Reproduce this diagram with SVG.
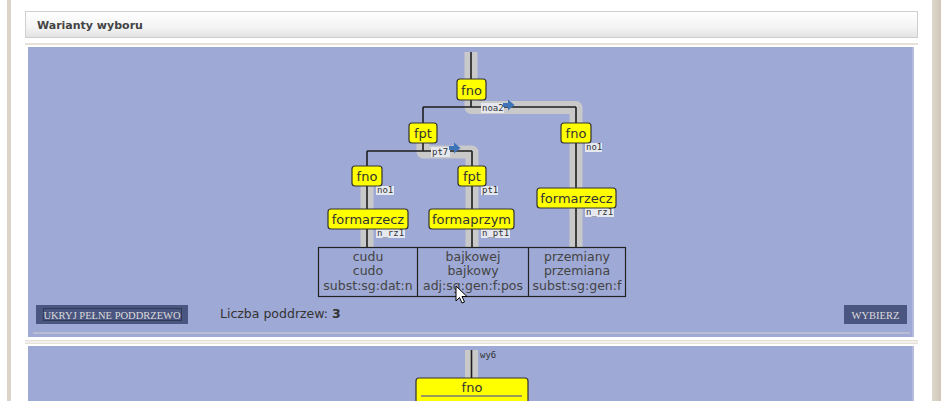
<svg xmlns="http://www.w3.org/2000/svg" width="941" height="401" viewBox="0 0 941 401">
<defs>
<linearGradient id="hdr" x1="0" y1="0" x2="0" y2="1">
<stop offset="0" stop-color="#ffffff"/><stop offset="0.6" stop-color="#f4f4f4"/><stop offset="1" stop-color="#e2e2e2"/>
</linearGradient>
<linearGradient id="side" x1="0" y1="0" x2="1" y2="0">
<stop offset="0" stop-color="#e0d8cc"/><stop offset="1" stop-color="#cfc6b8"/>
</linearGradient>
</defs>
<style>
.band{fill:none;stroke:#c9c9c9;stroke-width:13;stroke-linejoin:round;stroke-linecap:butt}
.edge{fill:none;stroke:#1e1e1e;stroke-width:1.6}
.node rect{fill:#ffff00;stroke:#333;stroke-width:1.2}
.node text{font-family:"DejaVu Sans",sans-serif;font-size:13px;fill:#333;text-anchor:middle}
.lbl{font-family:"DejaVu Sans Mono",monospace;font-size:9px;fill:#333}
.lblbg{fill:#e6e8f0}
.tok{font-family:"DejaVu Sans",sans-serif;font-size:12.5px;fill:#444;text-anchor:middle}
.btn{fill:#4b5680}
.btntext{font-family:"Liberation Serif",serif;font-size:10.5px;fill:#dcdcdc}
.panel{fill:#9ea9d5}
.arrow{fill:#3d74b8}
</style>
<rect width="941" height="401" fill="#ffffff"/>
<rect x="7" y="0" width="4" height="401" fill="#dcd4c8"/>
<rect x="932" y="0" width="9" height="401" fill="url(#side)"/>

<!-- header -->
<g id="header">
<rect x="25.5" y="11.5" width="892" height="26" fill="url(#hdr)" stroke="#cfcfcf"/>
<text x="37" y="29" font-family="DejaVu Sans, sans-serif" font-size="11px" font-weight="bold" fill="#444">Warianty wyboru</text>
</g>
<rect x="25" y="43" width="893" height="2" fill="#e6e2da"/>

<!-- panel 1 -->
<rect class="panel" x="28" y="47" width="886" height="290"/>
<rect x="912" y="47" width="2" height="290" fill="#b4bbdc"/>
<rect x="33" y="332" width="877" height="2" fill="#b9bdd3"/>

<g id="connectors">
<path class="band" d="M471,52 V107.5 H576 V247"/>
<path class="band" d="M423,140 V152 H472 V247"/>
<path class="band" d="M367,180 V247"/>
<path class="edge" d="M471,52 V79"/>
<path class="edge" d="M471,100 V107 M423,107 H576 M423,107 V123 M576,107 V123"/>
<path class="edge" d="M423,143 V151 M367,151 H472 M367,151 V166 M472,151 V166"/>
<path class="edge" d="M367,186 V209 M367,229 V247"/>
<path class="edge" d="M472,186 V209 M472,229 V247"/>
<path class="edge" d="M576,143 V188 M576,208 V247"/>
<g id="label-noa2"><rect class="lblbg" x="481" y="103" width="23" height="10"/><text class="lbl" x="482" y="111">noa2</text><path class="arrow" d="M503,103 h5 v-3.5 l6.5,5.5 l-6.5,5.5 v-3.5 h-5 z"/></g>
<g id="label-pt7"><rect class="lblbg" x="431" y="147" width="19" height="10"/><text class="lbl" x="432" y="155">pt7</text><path class="arrow" d="M449,146 h5 v-3.5 l6.5,5.5 l-6.5,5.5 v-3.5 h-5 z"/></g>
<g id="label-no1a"><rect class="lblbg" x="585" y="143" width="17" height="9"/><text class="lbl" x="586" y="150">no1</text></g>
<g id="label-no1b"><rect class="lblbg" x="376" y="186" width="18" height="9"/><text class="lbl" x="377" y="193">no1</text></g>
<g id="label-pt1"><rect class="lblbg" x="481" y="186" width="17" height="9"/><text class="lbl" x="482" y="193">pt1</text></g>
<g id="label-nrz1a"><rect class="lblbg" x="376" y="229" width="29" height="9"/><text class="lbl" x="377" y="236">n_rz1</text></g>
<g id="label-npt1"><rect class="lblbg" x="481" y="229" width="29" height="9"/><text class="lbl" x="482" y="236">n_pt1</text></g>
<g id="label-nrz1b"><rect class="lblbg" x="585" y="208" width="29" height="9"/><text class="lbl" x="586" y="215">n_rz1</text></g>
</g>

<g id="n-fno-top" class="node"><rect x="457" y="79" width="29" height="21" rx="3"/><text x="471.5" y="95">fno</text></g>
<g id="n-fpt-1" class="node"><rect x="409" y="123" width="28" height="20" rx="3"/><text x="423" y="138">fpt</text></g>
<g id="n-fno-right" class="node"><rect x="561" y="123" width="30" height="20" rx="3"/><text x="576" y="138">fno</text></g>
<g id="n-fno-left" class="node"><rect x="352" y="166" width="30" height="20" rx="3"/><text x="367" y="181">fno</text></g>
<g id="n-fpt-2" class="node"><rect x="458" y="166" width="28" height="20" rx="3"/><text x="472" y="181">fpt</text></g>
<g id="n-formarzecz-left" class="node"><rect x="328" y="209" width="80" height="20" rx="3"/><text x="368" y="224">formarzecz</text></g>
<g id="n-formaprzym" class="node"><rect x="429" y="209" width="85" height="20" rx="3"/><text x="471.5" y="224">formaprzym</text></g>
<g id="n-formarzecz-right" class="node"><rect x="537" y="188" width="79" height="20" rx="3"/><text x="576.5" y="203">formarzecz</text></g>

<g id="tokens">
<rect x="318.5" y="247.5" width="307" height="49" fill="none" stroke="#222" stroke-width="1.2"/>
<path d="M417.5,247.5 V296.5 M528.5,247.5 V296.5" stroke="#222" stroke-width="1.2"/>
<g id="tok-1"><text class="tok" x="368" y="261">cudu</text><text class="tok" x="368" y="275">cudo</text><text class="tok" x="368" y="290">subst:sg:dat:n</text></g>
<g id="tok-2"><text class="tok" x="473" y="261">bajkowej</text><text class="tok" x="473" y="275">bajkowy</text><text class="tok" x="473" y="290">adj:sg:gen:f:pos</text></g>
<g id="tok-3"><text class="tok" x="577" y="261">przemiany</text><text class="tok" x="577" y="275">przemiana</text><text class="tok" x="577" y="290">subst:sg:gen:f</text></g>
</g>
<path d="M456,286 V301 L459.5,297.5 L462,303 L464.5,302 L462,296.5 L467,296.5 Z" fill="#fff" stroke="#000" stroke-width="1"/>

<g id="btn-ukryj">
<rect class="btn" x="36" y="305" width="152" height="19"/>
<rect x="43.5" y="308.5" width="138" height="12" fill="none" stroke="#1a1f33" stroke-width="1" stroke-dasharray="1,1"/>
<text class="btntext" x="112" y="318.5" text-anchor="middle">UKRYJ PEŁNE PODDRZEWO</text>
</g>
<text x="220" y="318" font-family="DejaVu Sans, sans-serif" font-size="12.5px" fill="#333">Liczba poddrzew: <tspan font-weight="bold">3</tspan></text>
<g id="btn-wybierz">
<rect class="btn" x="844" y="305" width="63" height="19"/>
<text class="btntext" x="875.5" y="318.5" text-anchor="middle">WYBIERZ</text>
</g>

<rect x="25" y="340" width="893" height="1.5" fill="#e6e2da"/>
<rect x="25" y="342.5" width="893" height="1.5" fill="#e6e2da"/>

<!-- panel 2 -->
<rect class="panel" x="28" y="346" width="886" height="55"/>
<rect x="912" y="346" width="2" height="55" fill="#b4bbdc"/>
<path class="band" d="M471.5,350 V380"/>
<path class="edge" d="M471.5,350 V378"/>
<text class="lbl" x="480" y="358">wy6</text>
<g id="n-fno-2" class="node"><rect x="416" y="378" width="112" height="40" rx="3"/><text x="472" y="392">fno</text><path d="M421,396 H522" stroke="#777" stroke-width="1.5"/></g>
</svg>
